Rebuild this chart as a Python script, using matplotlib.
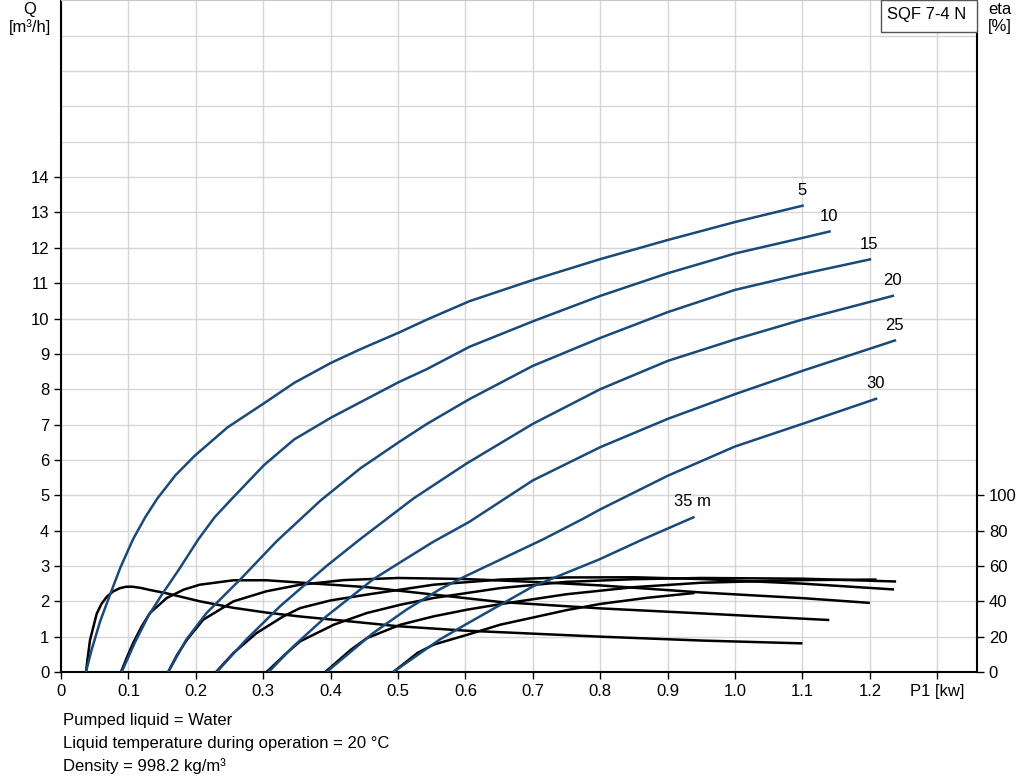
import matplotlib
matplotlib.use("Agg")
import matplotlib.pyplot as plt
import matplotlib.transforms as mtransforms
from matplotlib.patches import Rectangle

plt.rcParams['font.family'] = ['Liberation Sans', 'DejaVu Sans']

# heads [m] and their labels
heads = [5, 10, 15, 20, 25, 30, 35]
head_labels = ["5", "10", "15", "20", "25", "30", "35 m"]

# flow curves: P1 [kW] -> Q [m3/h]
q_p1 = {
    5: [0.037, 0.045, 0.058, 0.073, 0.088, 0.107, 0.125, 0.143, 0.17, 0.198, 0.247, 0.301,
        0.346, 0.401, 0.444, 0.501, 0.543, 0.606, 0.7, 0.8, 0.9, 1.0, 1.102],
    10: [0.09, 0.11, 0.13, 0.15, 0.175, 0.204, 0.228, 0.254, 0.301, 0.346, 0.401, 0.444,
         0.501, 0.543, 0.606, 0.7, 0.8, 0.9, 1.0, 1.1, 1.142],
    15: [0.159, 0.186, 0.216, 0.266, 0.32, 0.385, 0.444, 0.501, 0.543, 0.606, 0.7, 0.8,
         0.9, 1.0, 1.1, 1.202],
    20: [0.231, 0.275, 0.325, 0.394, 0.444, 0.523, 0.601, 0.7, 0.8, 0.9, 1.0, 1.1, 1.236],
    25: [0.308, 0.345, 0.394, 0.463, 0.503, 0.552, 0.606, 0.7, 0.8, 0.9, 1.0, 1.1, 1.239],
    30: [0.394, 0.463, 0.513, 0.562, 0.6, 0.715, 0.774, 0.8, 0.9, 1.0, 1.1, 1.211],
    35: [0.493, 0.562, 0.6, 0.7, 0.798, 0.863, 0.94],
}
q_val = {
    5: [0.0, 0.6, 1.43, 2.2, 2.95, 3.76, 4.38, 4.91, 5.57, 6.11, 6.92, 7.6,
        8.18, 8.75, 9.13, 9.6, 9.97, 10.49, 11.09, 11.68, 12.22, 12.73, 13.2],
    10: [0.0, 0.85, 1.6, 2.2, 2.9, 3.76, 4.38, 4.91, 5.85, 6.58, 7.2, 7.63,
         8.2, 8.57, 9.2, 9.92, 10.64, 11.28, 11.84, 12.28, 12.47],
    15: [0.0, 0.92, 1.67, 2.62, 3.7, 4.85, 5.76, 6.5, 7.02, 7.72, 8.66, 9.45,
         10.18, 10.81, 11.26, 11.68],
    20: [0.0, 0.92, 1.86, 3.0, 3.76, 4.91, 5.89, 7.02, 8.0, 8.8, 9.41, 9.97, 10.65],
    25: [0.0, 0.73, 1.58, 2.62, 3.1, 3.68, 4.25, 5.42, 6.36, 7.16, 7.86, 8.52, 9.39],
    30: [0.0, 1.1, 1.77, 2.34, 2.71, 3.75, 4.33, 4.6, 5.55, 6.38, 7.02, 7.74],
    35: [0.0, 0.92, 1.34, 2.42, 3.18, 3.75, 4.39],
}

# efficiency curves: P1 [kW] -> eta [%]
eta_p1 = {
    5: [0.037, 0.04, 0.043, 0.053, 0.06, 0.068, 0.077, 0.087, 0.096, 0.105, 0.118, 0.132,
        0.157, 0.206, 0.256, 0.305, 0.355, 0.409, 0.5, 0.6, 0.7, 0.8, 0.95, 1.1],
    10: [0.089, 0.098, 0.107, 0.12, 0.132, 0.157, 0.182, 0.206, 0.256, 0.305, 0.355, 0.454,
         0.553, 0.652, 0.8, 0.948, 1.14],
    15: [0.159, 0.172, 0.187, 0.211, 0.256, 0.305, 0.355, 0.42, 0.5, 0.6, 0.7, 0.8, 0.95,
         1.1, 1.2],
    20: [0.23, 0.256, 0.29, 0.33, 0.355, 0.4, 0.454, 0.553, 0.652, 0.75, 0.85, 0.95, 1.1,
         1.236],
    25: [0.305, 0.335, 0.355, 0.405, 0.454, 0.504, 0.553, 0.652, 0.75, 0.85, 0.95, 1.1, 1.239],
    30: [0.392, 0.43, 0.454, 0.504, 0.553, 0.603, 0.652, 0.75, 0.85, 0.95, 1.1, 1.21],
    35: [0.493, 0.529, 0.553, 0.603, 0.652, 0.7, 0.75, 0.8, 0.87, 0.94],
}
eta_val = {
    5: [0.0, 9.0, 18.0, 33.0, 38.5, 42.6, 45.5, 47.4, 48.2, 48.3, 47.6, 46.4,
        44.5, 40.0, 36.3, 33.6, 31.4, 29.4, 25.9, 23.4, 21.7, 20.0, 17.8, 16.2],
    10: [0.0, 8.5, 16.4, 26.0, 33.4, 41.9, 46.6, 49.4, 51.9, 51.9, 50.6, 48.0, 43.8, 39.6,
         36.0, 33.2, 29.4],
    15: [0.0, 9.5, 18.3, 29.6, 40.0, 45.7, 49.4, 52.0, 53.2, 52.6, 51.0, 49.0, 45.0, 41.8,
         39.1],
    20: [0.0, 10.8, 22.0, 31.5, 36.2, 40.5, 43.8, 49.4, 52.3, 53.5, 53.6, 52.6, 50.0, 46.7],
    25: [0.0, 10.8, 17.4, 26.8, 33.4, 38.1, 41.9, 47.5, 51.0, 52.5, 53.2, 52.8, 51.2],
    30: [0.0, 12.6, 19.2, 26.8, 31.5, 35.3, 38.4, 44.0, 48.0, 50.5, 52.0, 52.3],
    35: [0.0, 10.8, 15.5, 21.1, 26.8, 30.8, 35.0, 38.5, 42.0, 44.7],
}

x_ticks = [0, 0.1, 0.2, 0.3, 0.4, 0.5, 0.6, 0.7, 0.8, 0.9, 1.0, 1.1, 1.2, 1.3]
x_tick_labels = ["0", "0.1", "0.2", "0.3", "0.4", "0.5", "0.6", "0.7", "0.8", "0.9",
                 "1.0", "1.1", "1.2", "P1 [kw]"]
q_ticks = list(range(0, 15))
eta_ticks = list(range(0, 101, 20))

notes = ["Pumped liquid = Water",
         "Liquid temperature during operation = 20 °C",
         "Density = 998.2 kg/m³"]

blue = "#1a4a7a"
fs = 12
W, H = 1024, 781
fig = plt.figure(figsize=(W / 100, H / 100), dpi=100)
ax = fig.add_axes([61 / W, 1 - 672 / H, (977 - 61) / W, 672 / H - 0.0005])

ax.set_xlim(0, 1.359)
ax.set_ylim(0, 19)
ax.set_xticks(x_ticks)
ax.set_xticklabels(x_tick_labels)
ax.set_yticks(q_ticks)
ax.set_yticks(range(15, 19), minor=True)
ax.tick_params(axis='y', which='minor', length=0)
ax.tick_params(axis='both', which='major', labelsize=fs, length=5, width=1, colors='black')
ax.grid(True, which='both', color='#d6d6d6', linewidth=1)
ax.set_axisbelow(True)
for s in ['left', 'bottom', 'right']:
    ax.spines[s].set_linewidth(1.5)
ax.spines['top'].set_color('#c8c8c8')

# eta drawn in the same axes, scaled so 100 % sits at Q = 5
eta_tr = mtransforms.Affine2D().scale(1, 0.05) + ax.transData
for h in heads:
    ax.plot(eta_p1[h], eta_val[h], color='black', lw=1.8, transform=eta_tr, zorder=2,
            solid_capstyle='butt', solid_joinstyle='round')
for h, lab in zip(heads, head_labels):
    ax.plot(q_p1[h], q_val[h], color=blue, lw=1.8, zorder=3, solid_capstyle='butt',
            solid_joinstyle='round')
    ax.annotate(lab, (q_p1[h][-1], q_val[h][-1]), xytext=(-2, 15),
                textcoords='offset pixels', ha='center', va='center', fontsize=fs)

ax2 = ax.twinx()
ax2.set_ylim(0, 19 * 20)
ax2.set_yticks(eta_ticks)
ax2.tick_params(axis='y', labelsize=fs, length=5, width=1)
for s in ax2.spines.values():
    s.set_visible(False)

fig.text(30 / W, 1 - 2 / H, "Q\n[m³/h]", ha='center', va='top', fontsize=fs, linespacing=1.15)
fig.text(1000 / W, 1 - 2 / H, "eta\n[%]", ha='center', va='top', fontsize=fs, linespacing=1.15)

fig.patches.append(Rectangle((881 / W, 1 - 32 / H), 96 / W, 32 / H, transform=fig.transFigure,
                             facecolor='white', edgecolor='#555555', lw=1, zorder=5))
fig.text(927 / W, 1 - 14 / H, "SQF 7-4 N", ha='center', va='center', fontsize=fs, zorder=6)

for i, line in enumerate(notes):
    fig.text(63 / W, 1 - (721 + 22.5 * i) / H, line, ha='left', va='center', fontsize=fs)

fig.savefig("out.png", dpi=100)
plt.close(fig)
